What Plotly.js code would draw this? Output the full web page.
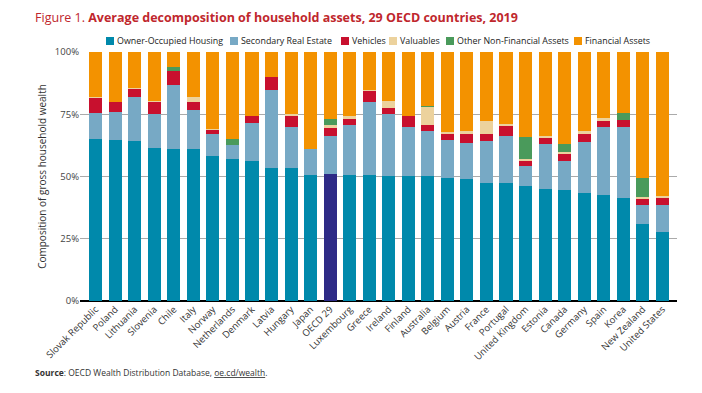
<!DOCTYPE html>
<html><head><meta charset="utf-8">
<script src="https://cdn.plot.ly/plotly-3.0.1.min.js"></script>
<style>html,body{margin:0;padding:0;background:#fff}#chart{width:702px;height:393px}</style>
</head><body><div id="chart"></div>
<script>
const countries = ["Slovak Republic","Poland","Lithuania","Slovenia","Chile","Italy","Norway","Netherlands","Denmark","Latvia","Hungary","Japan","OECD 29","Luxembourg","Greece","Ireland","Finland","Australia","Belgium","Austria","France","Portugal","United Kingdom","Estonia","Canada","Germany","Spain","Korea","New Zealand","United States"];
const ownerHousing = [65.1,64.7,64.3,61.5,61.1,61.1,58.3,57.1,56.3,53.4,53.4,50.5,51.1,50.5,50.5,50.1,50.1,50.1,49.5,49.1,47.5,47.5,46.2,45.0,44.6,43.4,42.6,41.4,31.0,27.7];
const secondaryRE = [10.5,11.4,17.5,13.7,25.5,15.8,8.9,5.4,15.0,31.5,16.6,10.6,15.3,20.3,29.4,25.1,19.9,18.3,15.2,14.4,16.8,18.9,8.1,18.1,11.7,20.5,27.4,28.6,7.6,10.9];
const vehicles = [5.9,3.7,3.3,4.6,5.9,2.9,1.4,0,2.8,4.9,4.4,0,3.0,2.4,4.6,2.5,4.1,2.4,2.5,3.7,2.9,4.0,2.1,2.4,2.8,3.3,2.4,2.8,2.4,2.8];
const valuables = [0.5,0,0.3,0.5,0,2.0,0.3,0,0,0,0.8,0,1.4,1.1,0.4,2.5,0,7.2,0.6,1.2,5.2,0.8,0.6,0.9,0.8,1.2,1.2,0,0.8,0.6];
const otherNonFin = [0,0,0,0,1.3,0,0,2.4,0,0,0,0,2.4,0,0,0,0,0.4,0,0,0,0,9.0,0,3.2,0,0,2.8,7.7,0];
const financial = countries.map((c,i)=>Math.max(0,100-ownerHousing[i]-secondaryRE[i]-vehicles[i]-valuables[i]-otherNonFin[i]));
const yTicks = [0,25,50,75,100];
const yTickText = ["0%","25%","50%","75%","100%"];
const seriesNames = ["Owner-Occupied Housing","Secondary Real Estate","Vehicles","Valuables","Other Non-Financial Assets","Financial Assets"];
const seriesColors = ["#0089ab","#77a9c5","#c8102e","#ecd29d","#4a9a5b","#f39200"];

const W = 702, H = 393, M = {l:80, r:25, t:52, b:92};
const pw = W - M.l - M.r, ph = H - M.t - M.b;
const px2x = p => (p - M.l) / pw;
const py2y = p => (H - M.b - p) / ph;

const ohColors = countries.map(c => c === "OECD 29" ? "#2d2a86" : seriesColors[0]);
const font = "Open Sans, Noto Sans, sans-serif";
const values = [ownerHousing, secondaryRE, vehicles, valuables, otherNonFin, financial];
const data = values.map((v,i)=>({type:'bar', name:seriesNames[i], x:countries, y:v,
    marker:{color: i===0 ? ohColors : seriesColors[i], line:{width:0}}, hoverinfo:'skip'}));

// legend row (swatch + label), laid out as in the reference
const swatchLeft = [106, 230, 341, 389, 446, 574];
const shapes = [], annotations = [];
seriesNames.forEach((n,i)=>{
  shapes.push({type:'rect', xref:'paper', yref:'paper', x0:px2x(swatchLeft[i]), x1:px2x(swatchLeft[i]+8),
    y0:py2y(45), y1:py2y(37), fillcolor:seriesColors[i], line:{width:0}});
  annotations.push({xref:'paper', yref:'paper', x:px2x(swatchLeft[i]+9), y:py2y(41), xanchor:'left', yanchor:'middle',
    showarrow:false, text:n, font:{family:font, size:8.9, color:'#222'}});
});
annotations.push({
  xref:'paper', yref:'paper', x:px2x(33), y:py2y(372), xanchor:'left', yanchor:'middle', showarrow:false,
  text:"<b>Source</b>: OECD Wealth Distribution Database, <u>oe.cd/wealth</u>.",
  font:{family:font, size:8.5, color:'#333'}
});

const layout = {
  width:W, height:H, margin:M,
  barmode:'stack', bargap:0.33, showlegend:false,
  paper_bgcolor:'#fff', plot_bgcolor:'#fff',
  font:{family:font, color:'#333', size:10},
  title:{text:"Figure 1. <b>Average decomposition of household assets, 29 OECD countries, 2019</b>",
    x:0.05, xanchor:'left', xref:'container', y:0.955, yanchor:'middle', yref:'container',
    font:{family:font, size:12.5, color:'#c0272d'}},
  xaxis:{type:'category', range:[-0.8,29.75], tickangle:-45, tickfont:{family:font, size:9.5, color:'#333'},
    showgrid:false, ticks:'', showline:false, zeroline:false, fixedrange:true},
  yaxis:{range:[0,100], tickvals:yTicks, ticktext:yTickText, tickfont:{family:font, size:9.5, color:'#444'},
    showgrid:true, gridcolor:'#aaaaaa', gridwidth:1, zeroline:true, zerolinecolor:'#000', zerolinewidth:1.2,
    ticks:'', ticklen:0, showline:false,
    title:{text:"Composition of gross household wealth", font:{family:font, size:10, color:'#333'}, standoff:6}},
  shapes:shapes,
  annotations:annotations
};
Plotly.newPlot('chart', data, layout, {displayModeBar:false, staticPlot:true});
</script></body></html>
